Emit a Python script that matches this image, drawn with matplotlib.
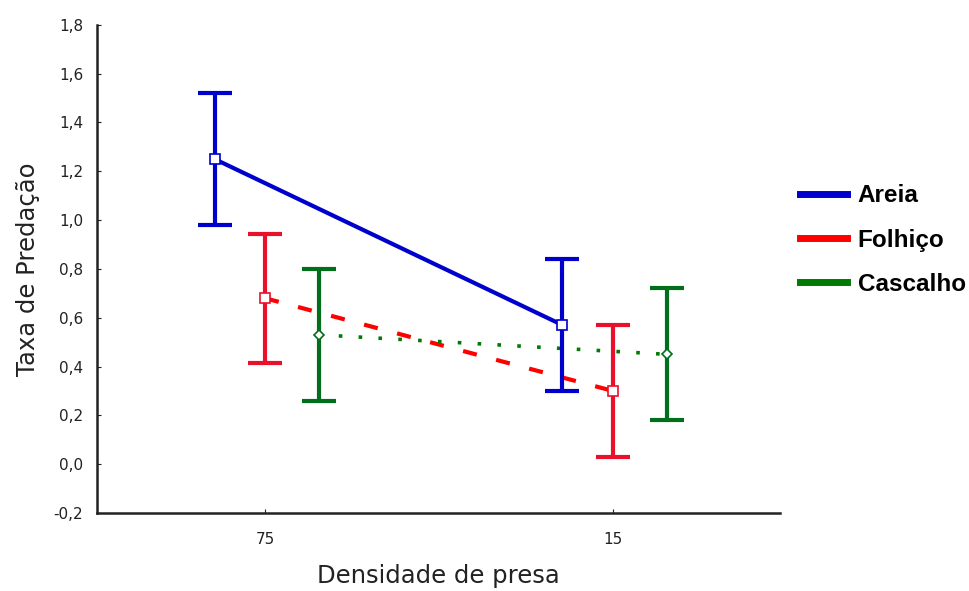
import numpy as np
import matplotlib.pyplot as plt
from matplotlib import font_manager

plt.rcParams['font.family'] = ['DejaVu Sans']

# dados
densidades = ['75', '15']
series = ['Areia', 'Folhiço', 'Cascalho']
medias = {
    'Areia': [1.25, 0.57],
    'Folhiço': [0.68, 0.30],
    'Cascalho': [0.53, 0.45],
}
erros = {
    'Areia': [0.27, 0.27],
    'Folhiço': [0.265, 0.27],
    'Cascalho': [0.27, 0.27],
}
cores = {'Areia': '#0000cc', 'Folhiço': '#ff0000', 'Cascalho': '#007a00'}
cores_barra = {'Areia': '#0000cc', 'Folhiço': '#e8102a', 'Cascalho': '#006e1a'}
desloc = {'Areia': -0.145, 'Folhiço': 0.0, 'Cascalho': 0.155}
estilos = {'Areia': '-', 'Folhiço': (0, (3.4, 4.8)), 'Cascalho': (0, (1, 4.5))}
marcadores = {'Areia': 's', 'Folhiço': 's', 'Cascalho': 'D'}

# fonte da legenda: Liberation Sans Bold (evitando a versao Narrow)
fonte_leg = None
for f in font_manager.fontManager.ttflist:
    if f.name == 'Liberation Sans' and f.weight in (700, 'bold') and f.style == 'normal' \
            and 'Narrow' not in f.fname:
        fonte_leg = font_manager.FontProperties(fname=f.fname, size=17.5)
        break
if fonte_leg is None:
    fonte_leg = font_manager.FontProperties(family='DejaVu Sans', weight='bold', size=16)

fig = plt.figure(figsize=(9.7, 5.91), dpi=100)
ax = fig.add_axes([0.1, 0.132, 0.704, 0.826])

x = np.arange(len(densidades))
for s in series:
    xs = x + desloc[s]
    ax.plot(xs, medias[s], color=cores[s], lw=3 if s != 'Cascalho' else 2.6, ls=estilos[s], zorder=2)
    ax.errorbar(xs, medias[s], yerr=erros[s], fmt='none', ecolor=cores_barra[s],
                elinewidth=3, capsize=12.5, capthick=3, zorder=3)
    ax.plot(xs, medias[s], ls='none', marker=marcadores[s], ms=7 if s != 'Cascalho' else 5,
            mfc='white', mec=cores_barra[s], mew=1.2, zorder=4)

ax.set_xlim(-0.483, 1.48)
ax.set_ylim(-0.2, 1.8)
ax.set_xticks(x)
ax.set_xticklabels(densidades)
yt = np.arange(-0.2, 1.81, 0.2)
ax.set_yticks(yt)
ax.set_yticklabels([f'{v:.1f}'.replace('.', ',').replace('-0,0', '0,0') for v in yt])
ax.tick_params(axis='both', direction='in', length=3, labelsize=11, colors='#222222')
ax.tick_params(axis='y', pad=10)
ax.tick_params(axis='x', pad=14)

for lado in ['top', 'right']:
    ax.spines[lado].set_visible(False)
for lado in ['left', 'bottom']:
    ax.spines[lado].set_linewidth(1.8)
    ax.spines[lado].set_color('#222222')

ax.set_xlabel('Densidade de presa', fontsize=17.5, color='#222222', labelpad=12)
ax.set_ylabel('Taxa de Predação', fontsize=17.5, color='#222222', labelpad=10)

handles = [plt.Line2D([], [], color=cores[s], lw=5) for s in series]
fig.legend(handles, series, loc='upper left', bbox_to_anchor=(0.8247, 0.688),
           frameon=False, prop=fonte_leg,
           handlelength=1.93, handletextpad=0.45, labelspacing=0.875,
           borderpad=0, borderaxespad=0)

fig.savefig('out.png', dpi=100)
